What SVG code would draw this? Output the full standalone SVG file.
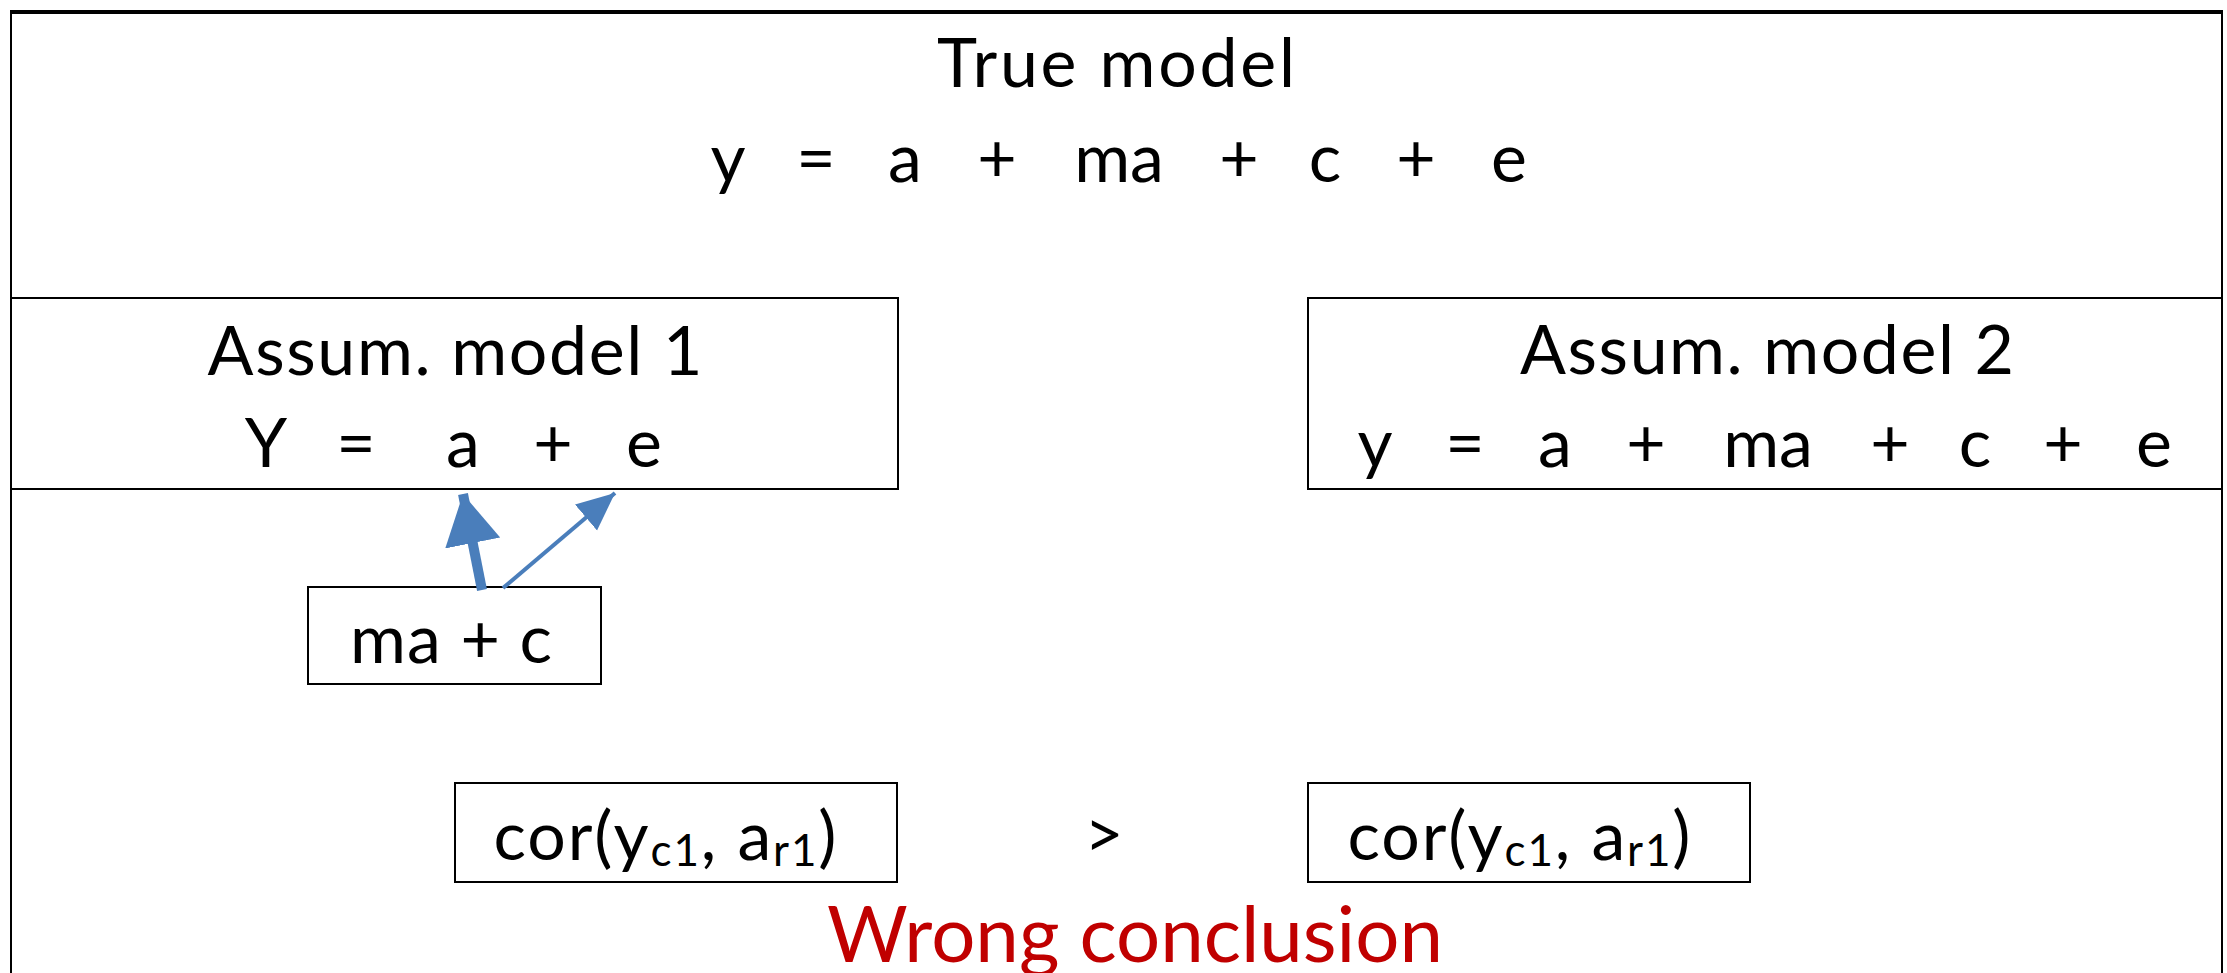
<svg xmlns="http://www.w3.org/2000/svg" width="2227" height="973" viewBox="0 0 2227 973">
<style>
text{font-family:Lato,"Open Sans","Liberation Sans",sans-serif;fill:#000;text-anchor:middle}
.t{font-size:68px}
.sub{font-size:44px}
.box{fill:none;stroke:#000;stroke-width:2}
.red{fill:#C00000;font-size:78px}
.arr{stroke:#4A7EBB;fill:none}
</style>
<defs>
<marker id="hBig" markerUnits="userSpaceOnUse" markerWidth="60" markerHeight="60" refX="50" refY="28" orient="auto">
<path d="M0,0 L50,28 L0,56 Z" fill="#4A7EBB"/>
</marker>
<marker id="hSmall" markerUnits="userSpaceOnUse" markerWidth="50" markerHeight="50" refX="38" refY="17" orient="auto">
<path d="M0,0 L38,17 L0,34 Z" fill="#4A7EBB"/>
</marker>
</defs>
<rect width="2227" height="973" fill="#fff"/>
<g id="true-model">
<path d="M11,990 L11,12 L2222,12 L2222,990" fill="none" stroke="#000" stroke-width="2"/>
<line x1="10" y1="12" x2="2223" y2="12" stroke="#000" stroke-width="4"/>
<text class="t" x="1116" y="87" textLength="358" lengthAdjust="spacing">True model</text>
<text class="t" y="182"><tspan x="728">y</tspan><tspan x="816">=</tspan><tspan x="905">a</tspan><tspan x="997">+</tspan><tspan x="1119">ma</tspan><tspan x="1239">+</tspan><tspan x="1325">c</tspan><tspan x="1416">+</tspan><tspan x="1509">e</tspan></text>
</g>
<g id="assum1">
<rect class="box" x="11" y="298" width="887" height="191"/>
<text class="t" x="455" y="375" textLength="495" lengthAdjust="spacing">Assum. model 1</text>
<text class="t" y="467"><tspan x="266">Y</tspan><tspan x="356">=</tspan><tspan x="463">a</tspan><tspan x="553">+</tspan><tspan x="644">e</tspan></text>
</g>
<g id="assum2">
<rect class="box" x="1308" y="298" width="914" height="191"/>
<text class="t" x="1767" y="374" textLength="494" lengthAdjust="spacing">Assum. model 2</text>
<text class="t" y="467"><tspan x="1375">y</tspan><tspan x="1465">=</tspan><tspan x="1555">a</tspan><tspan x="1646">+</tspan><tspan x="1768">ma</tspan><tspan x="1890">+</tspan><tspan x="1975">c</tspan><tspan x="2063">+</tspan><tspan x="2154">e</tspan></text>
</g>
<g id="ma-c">
<rect class="box" x="308" y="587" width="293" height="97"/>
<text class="t" x="451" y="663" textLength="202" lengthAdjust="spacing">ma + c</text>
</g>
<g id="cor1">
<rect class="box" x="455" y="783" width="442" height="99"/>
<text class="t" x="665" y="860" textLength="343" lengthAdjust="spacing">cor(y<tspan class="sub" dy="6">c1</tspan><tspan dy="-6">, a</tspan><tspan class="sub" dy="6">r1</tspan><tspan dy="-6">)</tspan></text>
</g>
<g id="gt">
<text class="t" x="1104" y="858">&gt;</text>
</g>
<g id="cor2">
<rect class="box" x="1308" y="783" width="442" height="99"/>
<text class="t" x="1519" y="860" textLength="343" lengthAdjust="spacing">cor(y<tspan class="sub" dy="6">c1</tspan><tspan dy="-6">, a</tspan><tspan class="sub" dy="6">r1</tspan><tspan dy="-6">)</tspan></text>
</g>
<g id="conclusion">
<text class="red" x="1135" y="962">Wrong conclusion</text>
</g>
<g id="connectors">
<line class="arr" x1="482" y1="590" x2="463" y2="494" stroke-width="10" marker-end="url(#hBig)"/>
<line class="arr" x1="503" y1="588" x2="615" y2="493" stroke-width="4" marker-end="url(#hSmall)"/>
</g>
</svg>
